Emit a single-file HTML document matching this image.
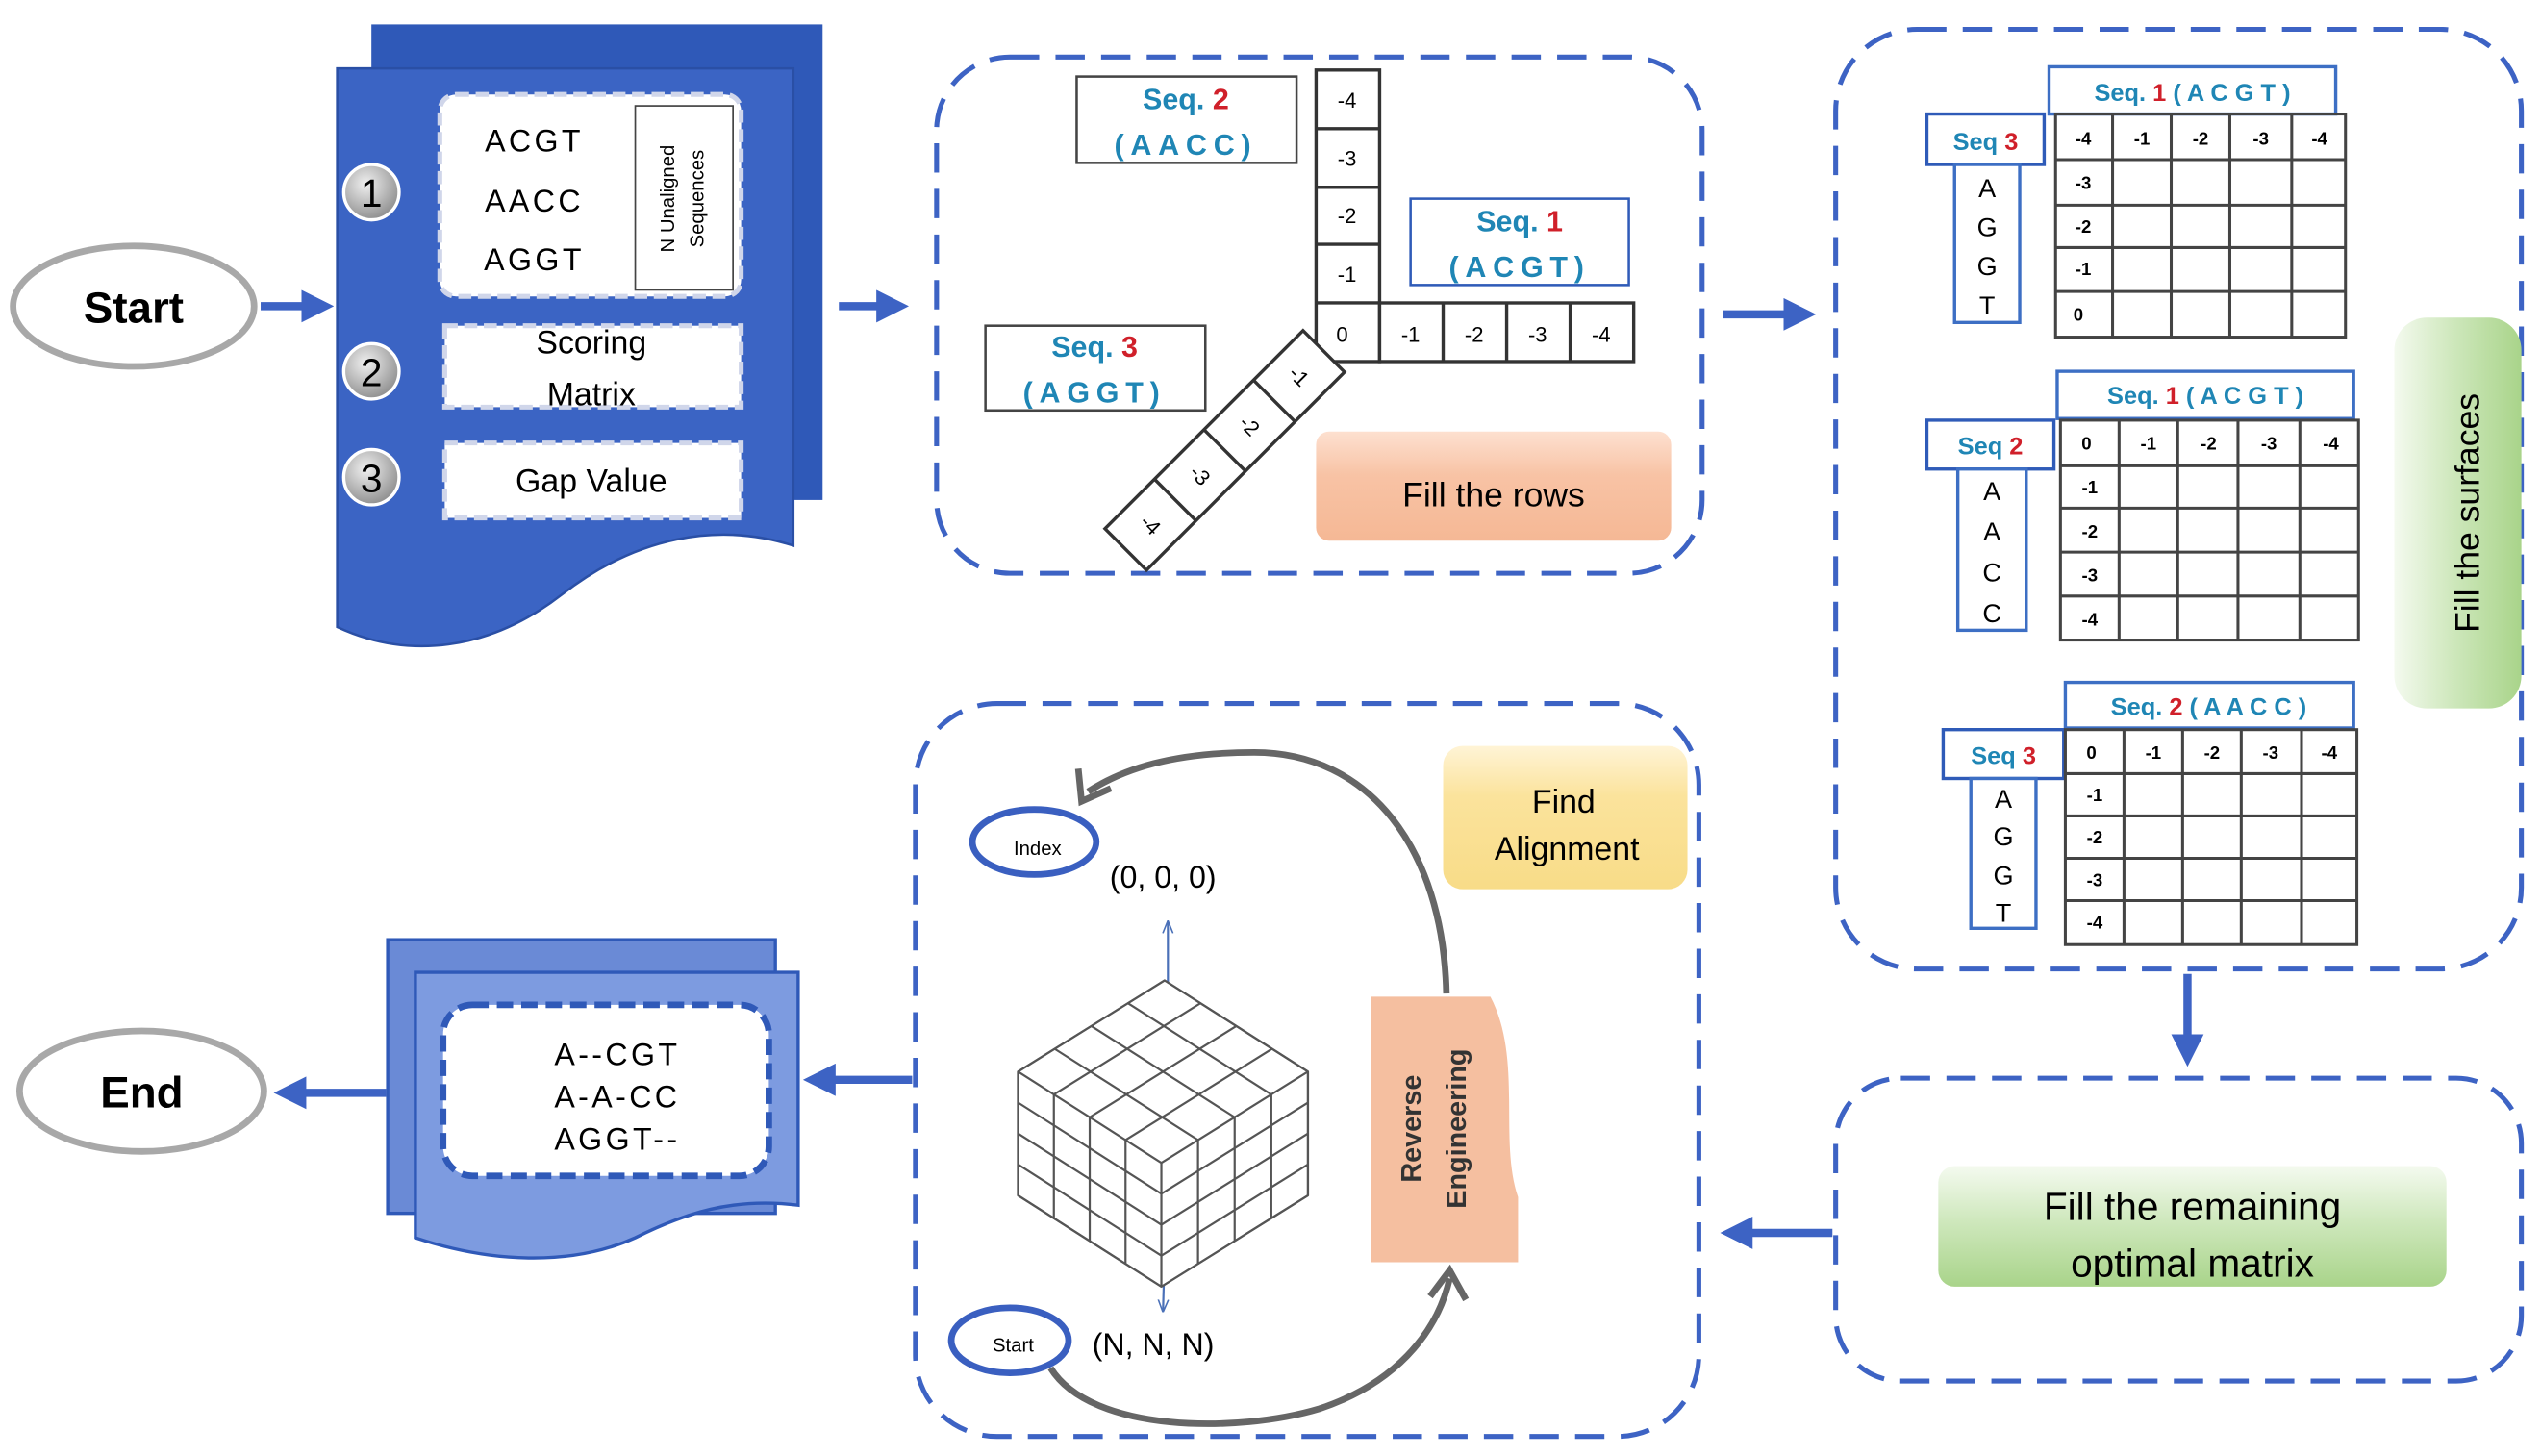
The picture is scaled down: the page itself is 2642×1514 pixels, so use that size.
<!DOCTYPE html>
<html><head><meta charset="utf-8">
<style>
html,body{margin:0;padding:0;background:#fff}
svg{display:block}
text{font-family:"Liberation Sans",sans-serif}
</style></head><body>
<svg width="2642" height="1514" viewBox="0 0 1560 894" xmlns="http://www.w3.org/2000/svg">
<defs>
<radialGradient id="gc" cx="40%" cy="35%" r="70%"><stop offset="0" stop-color="#f0f0f0"/><stop offset="1" stop-color="#8a8a8a"/></radialGradient>
<linearGradient id="orng" x1="0" y1="0" x2="0" y2="1"><stop offset="0" stop-color="#fde0d0"/><stop offset="0.4" stop-color="#f8c3a5"/><stop offset="1" stop-color="#f5b895"/></linearGradient>
<linearGradient id="yel" x1="0" y1="0" x2="0" y2="1"><stop offset="0" stop-color="#fff4d6"/><stop offset="0.35" stop-color="#fbe39c"/><stop offset="1" stop-color="#f8dc88"/></linearGradient>
<linearGradient id="grn" x1="0" y1="0" x2="0" y2="1"><stop offset="0" stop-color="#f4faef"/><stop offset="0.45" stop-color="#cfe8bd"/><stop offset="1" stop-color="#a9d48a"/></linearGradient>
<linearGradient id="grnv" x1="0" y1="0" x2="1" y2="0"><stop offset="0" stop-color="#f4faef"/><stop offset="0.45" stop-color="#cfe8bd"/><stop offset="1" stop-color="#a9d48a"/></linearGradient>
<marker id="ah" viewBox="0 0 10 10" refX="5" refY="5" markerWidth="4" markerHeight="4" orient="auto"><path d="M0,0 L10,5 L0,10 z" fill="#3d63c4"/></marker>
<marker id="sa" viewBox="0 0 10 10" refX="9" refY="5" markerWidth="6" markerHeight="6" orient="auto-start-reverse"><path d="M0,1 L10,5 L0,9" fill="none" stroke="#4a70b8" stroke-width="1.2"/></marker>
</defs>

<ellipse cx="82" cy="188" rx="74" ry="37" fill="#fff" stroke="#a8a8a8" stroke-width="4"/>
<text x="82" y="198" font-size="27" font-weight="bold" text-anchor="middle">Start</text>
<line x1="160" y1="188" x2="195" y2="188" stroke="#3d63c4" stroke-width="5" marker-end="url(#ah)"/>

<rect x="228" y="15" width="277" height="292" fill="#2f59b8"/>
<path d="M207,42 H487 V335 C440,320 390,330 345,365 C300,400 250,405 207,385 Z" fill="#3b64c4" stroke="#2a4fa5" stroke-width="1.5"/>
<rect x="270" y="58" width="185" height="124" rx="10" fill="#fff" stroke="#d0d6ea" stroke-width="3" stroke-dasharray="8 4"/>
<rect x="390" y="65" width="60" height="113" fill="#fff" stroke="#444" stroke-width="1"/>
<text x="328" y="93" font-size="19" text-anchor="middle" letter-spacing="2">ACGT</text>
<text x="328" y="130" font-size="19" text-anchor="middle" letter-spacing="2">AACC</text>
<text x="328" y="166" font-size="19" text-anchor="middle" letter-spacing="2">AGGT</text>
<text transform="translate(414,122) rotate(-90)" font-size="12" text-anchor="middle">N Unaligned</text>
<text transform="translate(432,122) rotate(-90)" font-size="12" text-anchor="middle">Sequences</text>
<rect x="273" y="200" width="182" height="50" fill="#fff" stroke="#d0d6ea" stroke-width="3" stroke-dasharray="8 4"/>
<text x="363" y="217" font-size="20" text-anchor="middle">Scoring</text>
<text x="363" y="249" font-size="20" text-anchor="middle">Matrix</text>
<rect x="273" y="272" width="182" height="46" fill="#fff" stroke="#d0d6ea" stroke-width="3" stroke-dasharray="8 4"/>
<text x="363" y="302" font-size="20" text-anchor="middle">Gap Value</text>
<g font-size="24" text-anchor="middle">
<circle cx="228" cy="118" r="17" fill="url(#gc)" stroke="#fff" stroke-width="2"/><text x="228" y="127">1</text>
<circle cx="228" cy="228" r="17" fill="url(#gc)" stroke="#fff" stroke-width="2"/><text x="228" y="237">2</text>
<circle cx="228" cy="293" r="17" fill="url(#gc)" stroke="#fff" stroke-width="2"/><text x="228" y="302">3</text>
</g>
<line x1="515" y1="188" x2="548" y2="188" stroke="#3d63c4" stroke-width="5" marker-end="url(#ah)"/>

<rect x="575" y="35" width="470" height="317" rx="45" fill="#fff" stroke="#3d63c4" stroke-width="3" stroke-dasharray="18 10"/>
<rect x="661" y="47" width="135" height="53" fill="#fff" stroke="#444" stroke-width="1.5"/>
<text x="728" y="67" font-size="18" font-weight="bold" text-anchor="middle" fill="#1f86b5">Seq. <tspan fill="#d0202a">2</tspan></text>
<text x="728" y="95" font-size="18" font-weight="bold" text-anchor="middle" fill="#1f86b5" letter-spacing="4">(AACC)</text>
<rect x="866" y="122" width="134" height="53" fill="#fff" stroke="#2f5bb8" stroke-width="1.5"/>
<text x="933" y="142" font-size="18" font-weight="bold" text-anchor="middle" fill="#1f86b5">Seq. <tspan fill="#d0202a">1</tspan></text>
<text x="933" y="170" font-size="18" font-weight="bold" text-anchor="middle" fill="#1f86b5" letter-spacing="4">(ACGT)</text>
<rect x="605" y="200" width="135" height="52" fill="#fff" stroke="#444" stroke-width="1.5"/>
<text x="672" y="219" font-size="18" font-weight="bold" text-anchor="middle" fill="#1f86b5">Seq. <tspan fill="#d0202a">3</tspan></text>
<text x="672" y="247" font-size="18" font-weight="bold" text-anchor="middle" fill="#1f86b5" letter-spacing="4">(AGGT)</text>
<g stroke="#333" stroke-width="2" fill="#fff">
<rect x="808" y="43" width="39" height="179"/>
<line x1="808" y1="79" x2="847" y2="79"/><line x1="808" y1="115" x2="847" y2="115"/><line x1="808" y1="150" x2="847" y2="150"/><line x1="808" y1="186" x2="847" y2="186"/>
<rect x="847" y="186" width="156" height="36"/>
<line x1="886" y1="186" x2="886" y2="222"/><line x1="925" y1="186" x2="925" y2="222"/><line x1="964" y1="186" x2="964" y2="222"/>
</g>
<g font-size="13" text-anchor="middle">
<text x="827" y="66">-4</text><text x="827" y="102">-3</text><text x="827" y="137">-2</text><text x="827" y="173">-1</text><text x="824" y="210">0</text>
<text x="866" y="210">-1</text><text x="905" y="210">-2</text><text x="944" y="210">-3</text><text x="983" y="210">-4</text>
</g>
<g transform="translate(800,203) rotate(-45)">
<rect x="-172" y="0" width="172" height="36" fill="#fff" stroke="#333" stroke-width="2"/>
<line x1="-43" y1="0" x2="-43" y2="36" stroke="#333" stroke-width="2"/>
<line x1="-86" y1="0" x2="-86" y2="36" stroke="#333" stroke-width="2"/>
<line x1="-129" y1="0" x2="-129" y2="36" stroke="#333" stroke-width="2"/>
<g font-size="13" text-anchor="middle">
<text transform="translate(-21,18) rotate(90)" y="5">-1</text>
<text transform="translate(-64,18) rotate(90)" y="5">-2</text>
<text transform="translate(-107,18) rotate(90)" y="5">-3</text>
<text transform="translate(-150,18) rotate(90)" y="5">-4</text>
</g>
</g>
<rect x="808" y="265" width="218" height="67" rx="8" fill="url(#orng)"/>
<text x="917" y="311" font-size="21" text-anchor="middle">Fill the rows</text>
<line x1="1058" y1="193" x2="1105" y2="193" stroke="#3d63c4" stroke-width="5" marker-end="url(#ah)"/>

<rect x="1127" y="18" width="421" height="577" rx="50" fill="#fff" stroke="#3d63c4" stroke-width="3" stroke-dasharray="18 10"/>
<rect x="1470" y="195" width="78" height="240" rx="20" fill="url(#grnv)"/>
<text transform="translate(1522,315) rotate(-90)" font-size="21" text-anchor="middle">Fill the surfaces</text>

<g>
<rect x="1258" y="41" width="176" height="29" fill="#fff" stroke="#3d6fc4" stroke-width="2"/>
<text x="1346" y="62" font-size="15" font-weight="bold" text-anchor="middle" fill="#1f86b5">Seq. <tspan fill="#d0202a">1</tspan> ( A C G T )</text>
<rect x="1183" y="70" width="72" height="31" fill="#fff" stroke="#2f5bb8" stroke-width="2"/>
<text x="1219" y="92" font-size="15" font-weight="bold" text-anchor="middle" fill="#1f86b5">Seq <tspan fill="#d0202a">3</tspan></text>
<rect x="1200" y="101" width="40" height="97" fill="#fff" stroke="#3d6fc4" stroke-width="2"/>
<g font-size="16" text-anchor="middle"><text x="1220" y="121">A</text><text x="1220" y="145">G</text><text x="1220" y="169">G</text><text x="1220" y="193">T</text></g>
<g stroke="#444" stroke-width="1.8" fill="none">
<rect x="1262" y="70" width="178" height="137"/>
<line x1="1297" y1="70" x2="1297" y2="207"/><line x1="1333" y1="70" x2="1333" y2="207"/><line x1="1369" y1="70" x2="1369" y2="207"/><line x1="1407" y1="70" x2="1407" y2="207"/>
<line x1="1262" y1="98" x2="1440" y2="98"/><line x1="1262" y1="126" x2="1440" y2="126"/><line x1="1262" y1="152" x2="1440" y2="152"/><line x1="1262" y1="179" x2="1440" y2="179"/>
</g>
<g font-size="11" font-weight="bold" text-anchor="middle">
<text x="1279" y="89">-4</text><text x="1315" y="89">-1</text><text x="1351" y="89">-2</text><text x="1388" y="89">-3</text><text x="1424" y="89">-4</text>
<text x="1279" y="116">-3</text><text x="1279" y="143">-2</text><text x="1279" y="169">-1</text><text x="1276" y="197">0</text>
</g>
</g>
<g>
<rect x="1263" y="228" width="182" height="29" fill="#fff" stroke="#3d6fc4" stroke-width="2"/>
<text x="1354" y="248" font-size="15" font-weight="bold" text-anchor="middle" fill="#1f86b5">Seq. <tspan fill="#d0202a">1</tspan> ( A C G T )</text>
<rect x="1183" y="258" width="78" height="30" fill="#fff" stroke="#2f5bb8" stroke-width="2"/>
<text x="1222" y="279" font-size="15" font-weight="bold" text-anchor="middle" fill="#1f86b5">Seq <tspan fill="#d0202a">2</tspan></text>
<rect x="1202" y="288" width="42" height="99" fill="#fff" stroke="#3d6fc4" stroke-width="2"/>
<g font-size="16" text-anchor="middle"><text x="1223" y="307">A</text><text x="1223" y="332">A</text><text x="1223" y="357">C</text><text x="1223" y="382">C</text></g>
<g stroke="#444" stroke-width="1.8" fill="none">
<rect x="1265" y="258" width="183" height="135"/>
<line x1="1301" y1="258" x2="1301" y2="393"/><line x1="1337" y1="258" x2="1337" y2="393"/><line x1="1374" y1="258" x2="1374" y2="393"/><line x1="1412" y1="258" x2="1412" y2="393"/>
<line x1="1265" y1="286" x2="1448" y2="286"/><line x1="1265" y1="312" x2="1448" y2="312"/><line x1="1265" y1="339" x2="1448" y2="339"/><line x1="1265" y1="366" x2="1448" y2="366"/>
</g>
<g font-size="11" font-weight="bold" text-anchor="middle">
<text x="1281" y="276">0</text><text x="1319" y="276">-1</text><text x="1356" y="276">-2</text><text x="1393" y="276">-3</text><text x="1431" y="276">-4</text>
<text x="1283" y="303">-1</text><text x="1283" y="330">-2</text><text x="1283" y="357">-3</text><text x="1283" y="384">-4</text>
</g>
</g>
<g>
<rect x="1268" y="419" width="177" height="28" fill="#fff" stroke="#3d6fc4" stroke-width="2"/>
<text x="1356" y="439" font-size="15" font-weight="bold" text-anchor="middle" fill="#1f86b5">Seq. <tspan fill="#d0202a">2</tspan> ( A A C C )</text>
<rect x="1193" y="448" width="74" height="30" fill="#fff" stroke="#2f5bb8" stroke-width="2"/>
<text x="1230" y="469" font-size="15" font-weight="bold" text-anchor="middle" fill="#1f86b5">Seq <tspan fill="#d0202a">3</tspan></text>
<rect x="1210" y="478" width="40" height="92" fill="#fff" stroke="#3d6fc4" stroke-width="2"/>
<g font-size="16" text-anchor="middle"><text x="1230" y="496">A</text><text x="1230" y="519">G</text><text x="1230" y="543">G</text><text x="1230" y="566">T</text></g>
<g stroke="#444" stroke-width="1.8" fill="none">
<rect x="1268" y="448" width="179" height="132"/>
<line x1="1304" y1="448" x2="1304" y2="580"/><line x1="1340" y1="448" x2="1340" y2="580"/><line x1="1376" y1="448" x2="1376" y2="580"/><line x1="1413" y1="448" x2="1413" y2="580"/>
<line x1="1268" y1="475" x2="1447" y2="475"/><line x1="1268" y1="501" x2="1447" y2="501"/><line x1="1268" y1="527" x2="1447" y2="527"/><line x1="1268" y1="553" x2="1447" y2="553"/>
</g>
<g font-size="11" font-weight="bold" text-anchor="middle">
<text x="1284" y="466">0</text><text x="1322" y="466">-1</text><text x="1358" y="466">-2</text><text x="1394" y="466">-3</text><text x="1430" y="466">-4</text>
<text x="1286" y="492">-1</text><text x="1286" y="518">-2</text><text x="1286" y="544">-3</text><text x="1286" y="570">-4</text>
</g>
</g>

<line x1="1343" y1="598" x2="1343" y2="645" stroke="#3d63c4" stroke-width="5" marker-end="url(#ah)"/>

<rect x="1127" y="662" width="421" height="186" rx="40" fill="#fff" stroke="#3d63c4" stroke-width="3" stroke-dasharray="18 10"/>
<rect x="1190" y="716" width="312" height="74" rx="10" fill="url(#grn)"/>
<text x="1346" y="749" font-size="24" text-anchor="middle">Fill the remaining</text>
<text x="1346" y="784" font-size="24" text-anchor="middle">optimal matrix</text>
<line x1="1125" y1="757" x2="1066" y2="757" stroke="#3d63c4" stroke-width="5" marker-end="url(#ah)"/>

<rect x="562" y="432" width="481" height="450" rx="50" fill="#fff" stroke="#3d63c4" stroke-width="3" stroke-dasharray="18 10"/>
<rect x="886" y="458" width="150" height="88" rx="12" fill="url(#yel)"/>
<text x="960" y="499" font-size="20" text-anchor="middle">Find</text>
<text x="962" y="528" font-size="20" text-anchor="middle">Alignment</text>
<path d="M842,612 H915 C935,650 920,700 932,735 V775 H842 Z" fill="#f5bfa0"/>
<text transform="translate(872,693) rotate(-90)" font-size="17" font-weight="bold" text-anchor="middle" fill="#333">Reverse</text>
<text transform="translate(900,693) rotate(-90)" font-size="17" font-weight="bold" text-anchor="middle" fill="#333">Engineering</text>
<path d="M888,610 C886,520 840,462 770,462 C720,462 690,472 668,486" fill="none" stroke="#666" stroke-width="4"/>
<path d="M662,472 L664,492 L682,484" fill="none" stroke="#666" stroke-width="4"/>
<path d="M645,840 C670,880 760,880 810,865 C855,850 882,820 890,785" fill="none" stroke="#666" stroke-width="4"/>
<path d="M878,796 L890,780 L900,798" fill="none" stroke="#666" stroke-width="4"/>
<ellipse cx="635" cy="517" rx="38" ry="20" fill="#fff" stroke="#3a5fc0" stroke-width="4"/>
<text x="637" y="525" font-size="12" text-anchor="middle">Index</text>
<text x="714" y="545" font-size="19" text-anchor="middle">(0, 0, 0)</text>
<ellipse cx="620" cy="823" rx="36" ry="20" fill="#fff" stroke="#3a5fc0" stroke-width="4"/>
<text x="622" y="830" font-size="12" text-anchor="middle">Start</text>
<text x="708" y="832" font-size="19" text-anchor="middle">(N, N, N)</text>
<line x1="717" y1="612" x2="717" y2="566" stroke="#4a70b8" stroke-width="1.3" marker-end="url(#sa)"/>
<line x1="715" y1="770" x2="714" y2="805" stroke="#4a70b8" stroke-width="1.3" marker-end="url(#sa)"/>
<g stroke="#555" stroke-width="1.3" fill="none">
<path d="M715,602 L803,658 L803,734 L713,790 L625,734 L625,658 Z" fill="#fff"/>
<line x1="715" y1="602" x2="803" y2="658"/><line x1="692.5" y1="616" x2="780.5" y2="672"/><line x1="670" y1="630" x2="758" y2="686"/><line x1="647.5" y1="644" x2="735.5" y2="700"/><line x1="625" y1="658" x2="713" y2="714"/>
<line x1="715" y1="602" x2="625" y2="658"/><line x1="737" y1="616" x2="647" y2="672"/><line x1="759" y1="630" x2="669" y2="686"/><line x1="781" y1="644" x2="691" y2="700"/><line x1="803" y1="658" x2="713" y2="714"/>
<line x1="625" y1="658" x2="625" y2="734"/><line x1="647" y1="672" x2="647" y2="748"/><line x1="669" y1="686" x2="669" y2="762"/><line x1="691" y1="700" x2="691" y2="776"/><line x1="713" y1="714" x2="713" y2="790"/>
<line x1="625" y1="677" x2="713" y2="733"/><line x1="625" y1="696" x2="713" y2="752"/><line x1="625" y1="715" x2="713" y2="771"/><line x1="625" y1="734" x2="713" y2="790"/>
<line x1="735.5" y1="700" x2="735.5" y2="776"/><line x1="758" y1="686" x2="758" y2="762"/><line x1="780.5" y1="672" x2="780.5" y2="748"/><line x1="803" y1="658" x2="803" y2="734"/>
<line x1="713" y1="733" x2="803" y2="677"/><line x1="713" y1="752" x2="803" y2="696"/><line x1="713" y1="771" x2="803" y2="715"/><line x1="713" y1="790" x2="803" y2="734"/>
</g>
<line x1="560" y1="663" x2="503" y2="663" stroke="#3d63c4" stroke-width="5" marker-end="url(#ah)"/>

<rect x="238" y="577" width="238" height="168" fill="#6a8ad6" stroke="#2f59b8" stroke-width="2"/>
<path d="M255,597 H490 V740 C450,735 420,745 390,760 C350,778 300,775 255,760 Z" fill="#7d9be0" stroke="#2f59b8" stroke-width="2"/>
<rect x="272" y="617" width="200" height="105" rx="18" fill="#fff" stroke="#2f59b8" stroke-width="4" stroke-dasharray="10 5"/>
<text x="379" y="654" font-size="19" text-anchor="middle" letter-spacing="2">A--CGT</text>
<text x="379" y="680" font-size="19" text-anchor="middle" letter-spacing="2">A-A-CC</text>
<text x="379" y="706" font-size="19" text-anchor="middle" letter-spacing="2">AGGT--</text>
<line x1="237" y1="671" x2="178" y2="671" stroke="#3d63c4" stroke-width="5" marker-end="url(#ah)"/>
<ellipse cx="87" cy="670" rx="75" ry="37" fill="#fff" stroke="#a8a8a8" stroke-width="4"/>
<text x="87" y="680" font-size="27" font-weight="bold" text-anchor="middle">End</text>
</svg>
</body></html>
